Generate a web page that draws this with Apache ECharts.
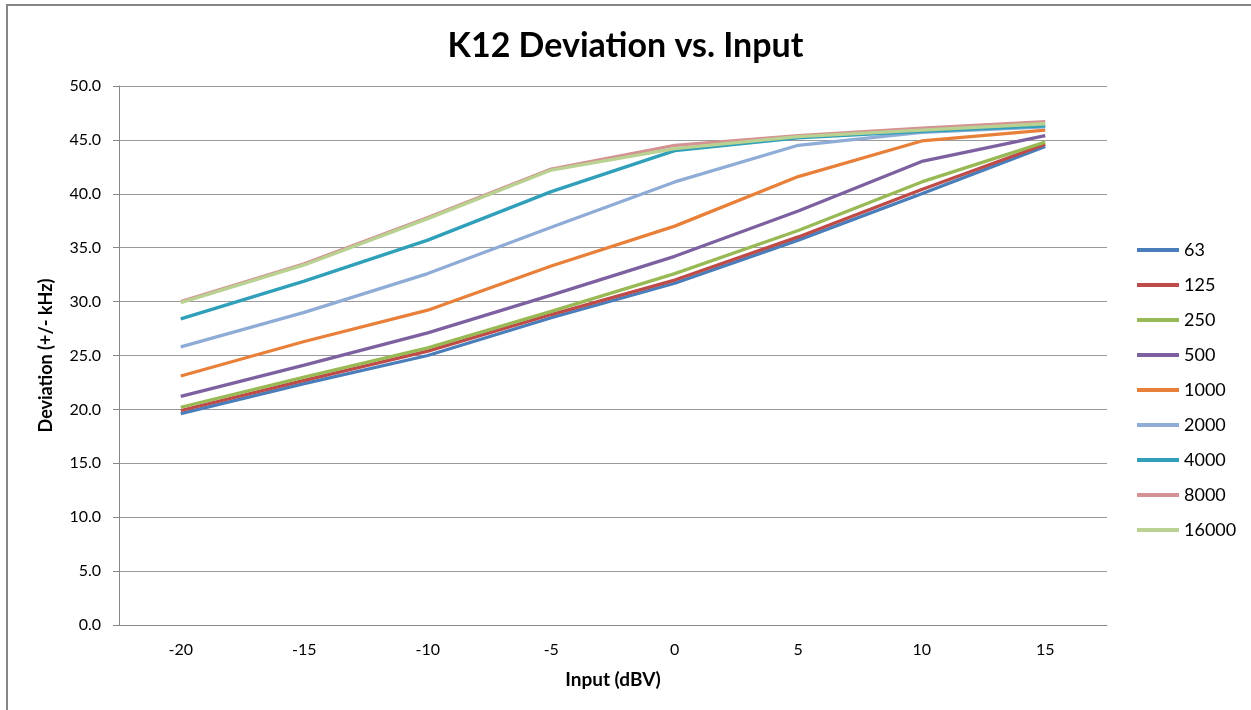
<!DOCTYPE html>
<html>
<head>
<meta charset="utf-8">
<script src="https://cdn.jsdelivr.net/npm/echarts@6/dist/echarts.min.js"></script>
<style>
html,body{margin:0;padding:0;background:#fff;}
#chart{width:1251px;height:710px;}
</style>
</head>
<body>
<div id="chart"></div>
<script>
const inputs = [-20, -15, -10, -5, 0, 5, 10, 15];
const xTickLabels = ['-20', '-15', '-10', '-5', '0', '5', '10', '15'];
const seriesNames = ['63', '125', '250', '500', '1000', '2000', '4000', '8000', '16000'];
const s63    = [19.6, 22.4, 25.0, 28.5, 31.7, 35.7, 40.0, 44.4];
const s125   = [19.9, 22.7, 25.4, 28.8, 32.0, 36.0, 40.4, 44.6];
const s250   = [20.2, 23.0, 25.7, 29.1, 32.6, 36.6, 41.1, 44.8];
const s500   = [21.2, 24.1, 27.1, 30.6, 34.2, 38.4, 43.0, 45.4];
const s1000  = [23.1, 26.3, 29.2, 33.3, 37.0, 41.6, 44.9, 45.9];
const s2000  = [25.8, 29.0, 32.6, 36.9, 41.1, 44.5, 45.7, 46.2];
const s4000  = [28.4, 31.9, 35.7, 40.2, 44.0, 45.2, 45.8, 46.3];
const s8000  = [30.0, 33.5, 37.8, 42.3, 44.5, 45.4, 46.1, 46.7];
const s16000 = [29.9, 33.4, 37.7, 42.2, 44.2, 45.3, 45.9, 46.5];
const allValues = [s63, s125, s250, s500, s1000, s2000, s4000, s8000, s16000];
const colors = ['#4A7EBB', '#BE4B48', '#98B954', '#7D60A0', '#E8803A', '#8EACD6', '#2F9FBA', '#D49292', '#B9D291'];

const FONT = 'Lato, "Open Sans", sans-serif';
const chart = echarts.init(document.getElementById('chart'), null, {renderer: 'canvas'});

const series = seriesNames.map((name, i) => ({
  name: name,
  type: 'line',
  xAxisIndex: 0,
  yAxisIndex: 0,
  symbol: 'none',
  smooth: false,
  lineStyle: {width: 3.3, color: colors[i]},
  itemStyle: {color: colors[i]},
  data: inputs.map((x, j) => [x, allValues[i][j]])
}));

chart.setOption({
  animation: false,
  backgroundColor: '#fff',
  color: colors,
  title: {
    text: 'K12 Deviation vs. Input',
    left: 'center',
    top: 24,
    textStyle: {fontFamily: FONT, fontSize: 34, fontWeight: 'bold', color: '#000'}
  },
  graphic: [{
    type: 'rect',
    shape: {x: 7, y: 5, width: 1400, height: 900},
    style: {fill: 'none', stroke: '#868686', lineWidth: 2},
    silent: true
  }],
  legend: {
    orient: 'vertical',
    left: 1132,
    top: 236,
    itemGap: 17,
    itemWidth: 42,
    itemHeight: 4,
    icon: 'rect',
    textStyle: {fontFamily: FONT, fontSize: 18, color: '#000'},
    data: seriesNames
  },
  grid: {left: 119, right: 144, top: 86, bottom: 85, containLabel: false},
  xAxis: [{
    type: 'value',
    min: -22.5,
    max: 17.5,
    show: false
  }, {
    type: 'category',
    position: 'bottom',
    data: xTickLabels,
    boundaryGap: true,
    name: 'Input (dBV)',
    nameLocation: 'middle',
    nameGap: 45,
    nameTextStyle: {fontFamily: FONT, fontSize: 19, fontWeight: 'bold', color: '#000'},
    axisLine: {show: true, lineStyle: {color: '#868686', width: 1}},
    axisTick: {show: false},
    axisLabel: {fontFamily: FONT, fontSize: 16, color: '#000', margin: 17},
    splitLine: {show: false}
  }],
  yAxis: {
    type: 'value',
    min: 0,
    max: 50,
    interval: 5,
    name: 'Deviation (+/- kHz)',
    nameLocation: 'middle',
    nameGap: 64,
    nameRotate: 90,
    nameTextStyle: {fontFamily: FONT, fontSize: 18, fontWeight: 'bold', color: '#000'},
    axisLine: {show: true, onZero: false, lineStyle: {color: '#868686', width: 1}},
    axisTick: {show: true, length: 6, inside: false, lineStyle: {color: '#868686'}},
    axisLabel: {fontFamily: FONT, fontSize: 16, color: '#000', margin: 18,
      formatter: v => v.toFixed(1)},
    splitLine: {show: true, lineStyle: {color: '#9a9a9a', width: 1}}
  },
  series: series
});
</script>
</body>
</html>
